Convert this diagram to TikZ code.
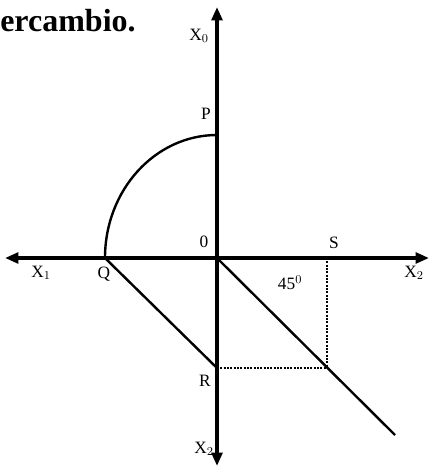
\documentclass[tikz,border=0pt]{standalone}
\usepackage{fontspec}
\setmainfont{Liberation Serif}
\usetikzlibrary{arrows.meta}
\begin{document}
\begin{tikzpicture}[x=0.75pt,y=-0.75pt,
  axis/.style={line width=2.6pt,-{Triangle[length=10pt,width=8pt]}},
  thin/.style={line width=1.8pt},
  dot/.style={line width=2pt,dash pattern=on 1.5pt off 1pt},
  lbl/.style={font=\fontsize{13}{15}\selectfont,inner sep=0pt}]
\useasboundingbox (0,0) rectangle (432,467);
\coordinate (O) at (217,258);
\coordinate (P) at (217,135);
\coordinate (Q) at (105,258);
\coordinate (R) at (217,368);
\coordinate (S) at (327,258);
\coordinate (T) at (327,368);
\coordinate (D) at (395,435);
\coordinate (top) at (217,7);
\coordinate (bot) at (217,466);
\coordinate (left) at (5,258);
\coordinate (right) at (429,258);
\draw[axis] (O) -- (top);
\draw[axis] (O) -- (bot);
\draw[axis] (O) -- (left);
\draw[axis] (O) -- (right);
\draw[thin] (Q) arc[start angle=180,end angle=90,x radius=112,y radius=-123];
\draw[thin] (Q) -- (R);
\draw[thin] (O) -- (D);
\draw[dot] (S) -- (T);
\draw[dot] (R) -- (T);
\node[lbl] (tx0) at (199,36) {X$_0$};
\node[lbl] (tp) at (206,114) {P};
\node[lbl] (t0) at (204,242) {0};
\node[lbl] (ts) at (334,243) {S};
\node[lbl] (tx1) at (41,273) {X$_1$};
\node[lbl] (tq) at (104,274) {Q};
\node[lbl] (tx2) at (414,273) {X$_2$};
\node[lbl] (t45) at (290,283) {45$^0$};
\node[lbl] (tr) at (205,381) {R};
\node[lbl] (tx2b) at (204,449) {X$_2$};
\node[inner sep=0pt,anchor=west,font=\fontsize{24}{26}\selectfont\bfseries] (title) at (0,21) {ercambio.};
\end{tikzpicture}
\end{document}
